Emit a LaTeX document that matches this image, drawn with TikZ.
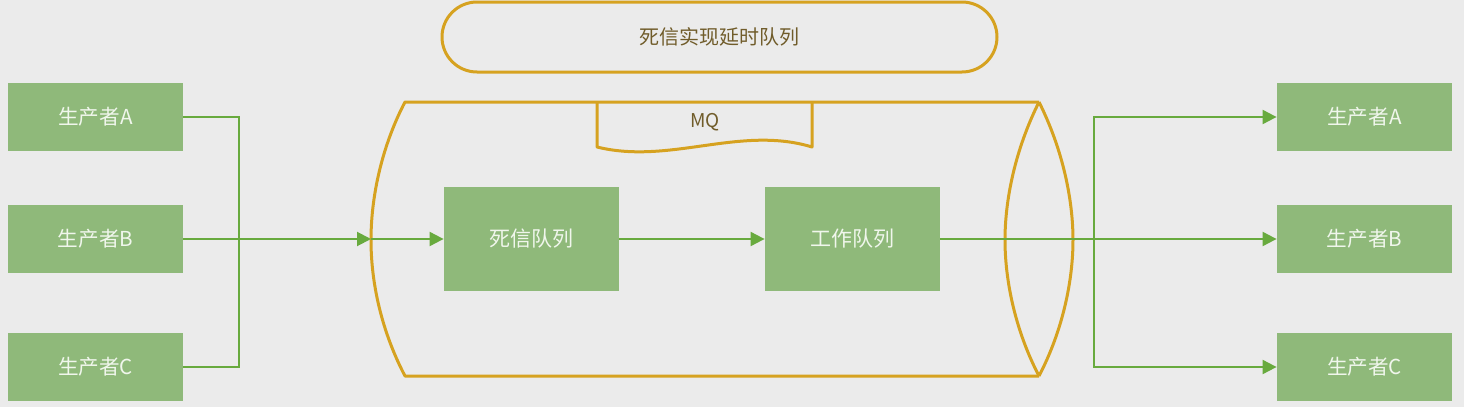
\documentclass[tikz,border=0pt]{standalone}
\usepackage{fontspec}
\setmainfont{Noto Sans CJK SC}
\usetikzlibrary{arrows.meta}
\definecolor{bgGray}{RGB}{235,235,235}
\definecolor{boxGreen}{RGB}{143,185,122}
\definecolor{lineGreen}{RGB}{104,170,62}
\definecolor{mqGold}{RGB}{214,162,32}
\definecolor{mqText}{RGB}{112,92,42}
\definecolor{boxText}{RGB}{240,246,236}
\begin{document}
\begin{tikzpicture}[x=0.5pt,y=0.5pt,yscale=-1,
  greenbox/.style={fill=boxGreen,draw=none,text=boxText,minimum width=87.5pt,minimum height=34pt,inner sep=0pt,font=\fontsize{10.3pt}{12pt}\selectfont},
  queuebox/.style={greenbox,minimum height=52pt,font=\fontsize{10.5pt}{12pt}\selectfont},
  link/.style={draw=lineGreen,line width=1pt},
  flow/.style={link,-{Triangle[length=7pt,width=7pt]}},
  mqline/.style={draw=mqGold,line width=1.5pt,line join=round}]
\fill[bgGray] (0,0) rectangle (1464,407);
\useasboundingbox (0,0) rectangle (1464,407);
\node [draw=mqGold,line width=1.5pt,minimum width=277.5pt,minimum height=35pt,rounded corners=17.5pt,text=mqText,font=\fontsize{10pt}{12pt}\selectfont] (title) at (719.5,37) {死信实现延时队列};
\draw [mqline] (1039,102) -- (405,102) .. controls (385,140) and (371,190) .. (371,240) .. controls (371,290) and (385,338) .. (405,376) -- (1039,376) ;
\draw [mqline] (1039,102) .. controls (1015,150) and (1005,200) .. (1005,240) .. controls (1005,280) and (1015,330) .. (1039,376) ;
\draw [mqline] (1039,102) .. controls (1063,150) and (1073,200) .. (1073,240) .. controls (1073,280) and (1063,330) .. (1039,376) ;
\draw [mqline] (597,102) -- (597,147) .. controls (670,165) and (740,125) .. (812,147) -- (812,102) ;
\node [text=mqText,font=\fontsize{9.5pt}{11pt}\selectfont] (mq) at (705,122) {MQ};
\node [greenbox] (pA) at (95.5,117) {生产者A};
\node [greenbox] (pB) at (95.5,239) {生产者B};
\node [greenbox] (pC) at (95.5,367) {生产者C};
\node [queuebox] (dlq) at (531.5,239) {死信队列};
\node [queuebox] (wq) at (852.5,239) {工作队列};
\node [greenbox] (cA) at (1364.5,117) {生产者A};
\node [greenbox] (cB) at (1364.5,239) {生产者B};
\node [greenbox] (cC) at (1364.5,367) {生产者C};
\coordinate (jin) at (239,239);
\coordinate (mqin) at (371,239);
\coordinate (jout) at (1094,239);
\draw [link] (pA.east) -| (jin);
\draw [link] (pC.east) -| (jin);
\draw [flow] (pB.east) -- (mqin);
\draw [flow] (mqin) -- (dlq.west);
\draw [flow] (dlq.east) -- (wq.west);
\draw [link] (wq.east) -- (jout);
\draw [flow] (jout) |- (cA.west);
\draw [flow] (jout) -- (cB.west);
\draw [flow] (jout) |- (cC.west);
\end{tikzpicture}
\end{document}
